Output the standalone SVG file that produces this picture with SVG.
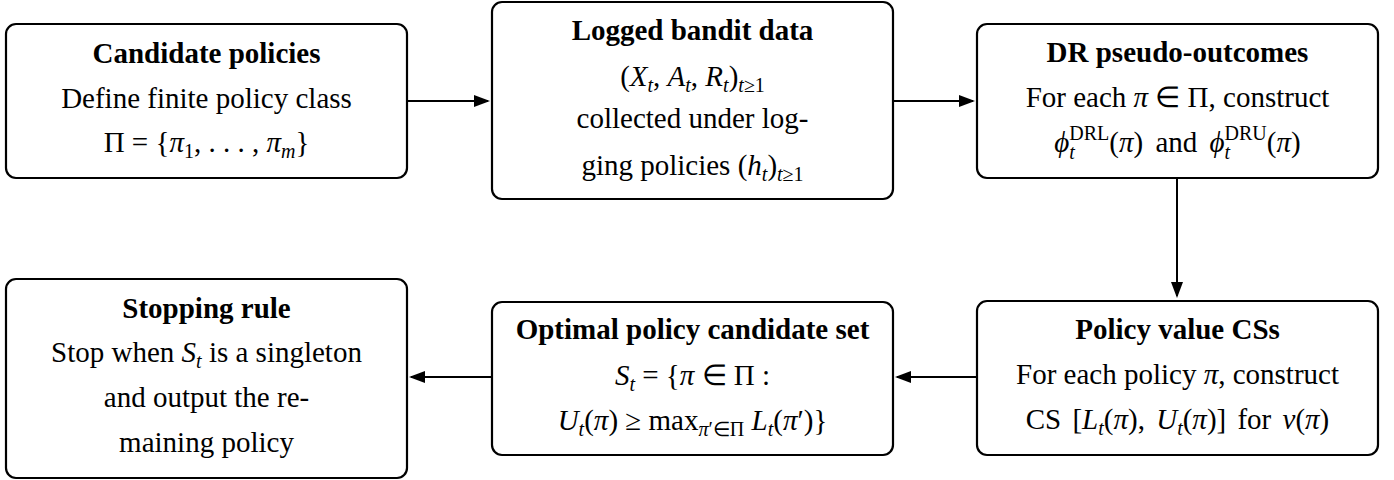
<svg xmlns="http://www.w3.org/2000/svg" width="1394" height="480" viewBox="0 0 1394 480">
<style>
.box{fill:#fff;stroke:#000;stroke-width:2.2}
text{font-family:"Liberation Serif","Times New Roman",serif;font-size:29px;fill:#000;text-anchor:middle}
.b{font-weight:bold}
.i{font-style:italic}
.s{font-size:20px}
.edge{stroke:#000;stroke-width:2;fill:none}
</style>
<defs>
<marker id="ah" markerUnits="userSpaceOnUse" markerWidth="17" markerHeight="13" refX="14" refY="6.5" orient="auto">
<path d="M0,0.5 L16,6.5 L0,12.5 Z" fill="#000"/>
</marker>
</defs>
<g id="connectors">
<line class="edge" x1="407" y1="101" x2="488" y2="101" marker-end="url(#ah)"/>
<line class="edge" x1="893" y1="101" x2="973" y2="101" marker-end="url(#ah)"/>
<line class="edge" x1="1177" y1="178" x2="1177" y2="296" marker-end="url(#ah)"/>
<line class="edge" x1="977" y1="377" x2="897" y2="377" marker-end="url(#ah)"/>
<line class="edge" x1="492" y1="377" x2="411" y2="377" marker-end="url(#ah)"/>
</g>
<g id="candidate">
<rect class="box" x="6" y="24" width="401" height="154" rx="10"/>
<text x="206.5" y="63" class="b">Candidate policies</text>
<text x="206.5" y="108">Define finite policy class</text>
<text x="206.5" y="152">Π = {<tspan class="i">π</tspan><tspan class="s" dy="6">1</tspan><tspan dy="-6">, . . . , </tspan><tspan class="i">π</tspan><tspan class="s i" dy="6">m</tspan><tspan dy="-6">}</tspan></text>
</g>
<g id="logged">
<rect class="box" x="492" y="2" width="401" height="197" rx="10"/>
<text x="692.5" y="40" class="b">Logged bandit data</text>
<text x="692.5" y="86">(<tspan class="i">X</tspan><tspan class="s i" dy="6">t</tspan><tspan dy="-6">, </tspan><tspan class="i">A</tspan><tspan class="s i" dy="6">t</tspan><tspan dy="-6">, </tspan><tspan class="i">R</tspan><tspan class="s i" dy="6">t</tspan><tspan dy="-6">)</tspan><tspan class="s" dy="6"><tspan class="i">t</tspan>≥1</tspan></text>
<text x="692.5" y="128">collected under log-</text>
<text x="692.5" y="175">ging policies (<tspan class="i">h</tspan><tspan class="s i" dy="6">t</tspan><tspan dy="-6">)</tspan><tspan class="s" dy="6"><tspan class="i">t</tspan>≥1</tspan></text>
</g>
<g id="dr">
<rect class="box" x="977" y="24" width="401" height="154" rx="10"/>
<text x="1177.5" y="62" class="b">DR pseudo-outcomes</text>
<text x="1177.5" y="107">For each <tspan class="i">π</tspan> ∈ Π, construct</text>
<text x="1177.5" y="152" word-spacing="5"><tspan class="i">ϕ</tspan><tspan class="s i" dy="7">t</tspan><tspan class="s" dx="-5.6" dy="-19">DRL</tspan><tspan dy="12">(<tspan class="i">π</tspan>) and </tspan><tspan class="i">ϕ</tspan><tspan class="s i" dy="7">t</tspan><tspan class="s" dx="-5.6" dy="-19">DRU</tspan><tspan dy="12">(<tspan class="i">π</tspan>)</tspan></text>
</g>
<g id="cs">
<rect class="box" x="977" y="301" width="401" height="154" rx="10"/>
<text x="1177.5" y="339" class="b">Policy value CSs</text>
<text x="1177.5" y="384">For each policy <tspan class="i">π</tspan>, construct</text>
<text x="1177.5" y="429" word-spacing="4">CS [<tspan class="i">L</tspan><tspan class="s i" dy="6">t</tspan><tspan dy="-6">(<tspan class="i">π</tspan>), </tspan><tspan class="i">U</tspan><tspan class="s i" dy="6">t</tspan><tspan dy="-6">(<tspan class="i">π</tspan>)] for </tspan><tspan class="i">ν</tspan>(<tspan class="i">π</tspan>)</text>
</g>
<g id="optimal">
<rect class="box" x="492" y="302" width="401" height="153" rx="10"/>
<text x="692.5" y="339" class="b">Optimal policy candidate set</text>
<text x="692.5" y="385"><tspan class="i">S</tspan><tspan class="s i" dy="6">t</tspan><tspan dy="-6"> = {</tspan><tspan class="i">π</tspan> ∈ Π :</text>
<text x="692.5" y="430"><tspan class="i">U</tspan><tspan class="s i" dy="6">t</tspan><tspan dy="-6">(<tspan class="i">π</tspan>) ≥ max</tspan><tspan class="s" dy="6"><tspan class="i">π</tspan>′∈Π</tspan><tspan dy="-6"> </tspan><tspan class="i">L</tspan><tspan class="s i" dy="6">t</tspan><tspan dy="-6">(<tspan class="i">π</tspan>′)}</tspan></text>
</g>
<g id="stopping">
<rect class="box" x="6" y="279" width="401" height="199" rx="10"/>
<text x="206.5" y="318" class="b">Stopping rule</text>
<text x="206.5" y="362">Stop when <tspan class="i">S</tspan><tspan class="s i" dy="6">t</tspan><tspan dy="-6"> is a singleton</tspan></text>
<text x="206.5" y="407">and output the re-</text>
<text x="206.5" y="452">maining policy</text>
</g>
</svg>
